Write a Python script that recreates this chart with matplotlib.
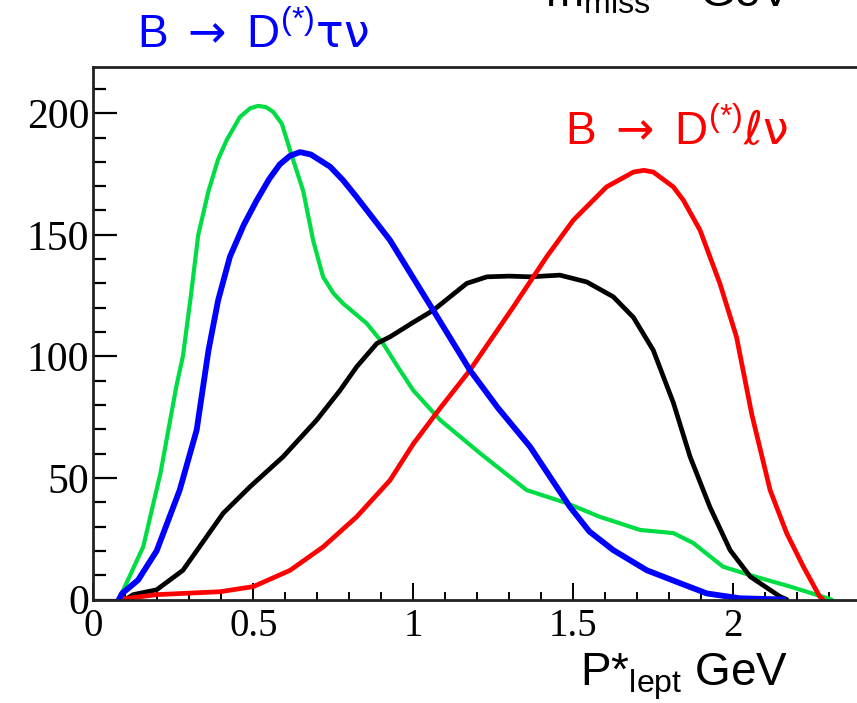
import numpy as np
import matplotlib
matplotlib.use("Agg")
import matplotlib.pyplot as plt
from matplotlib.ticker import MultipleLocator, FormatStrFormatter

plt.rcParams['mathtext.fontset'] = 'custom'
plt.rcParams['mathtext.rm'] = 'Liberation Sans'
plt.rcParams['mathtext.it'] = 'Liberation Sans:italic'
plt.rcParams['mathtext.sf'] = 'DejaVu Sans'

# P*_lept (GeV) vs events
green_x = [0.08, 0.156, 0.21, 0.26, 0.28, 0.305, 0.328, 0.36, 0.39, 0.417, 0.458, 0.49,
           0.515, 0.54, 0.5625, 0.589, 0.615, 0.656, 0.687, 0.718, 0.75, 0.78, 0.854,
           0.905, 0.95, 1.0, 1.084, 1.21, 1.354, 1.48, 1.583, 1.709, 1.813, 1.875,
           1.968, 2.053, 2.178, 2.307]
green_y = [0, 21.7, 52, 88, 100, 125, 150, 168, 181, 189, 198.4, 202,
           203, 202.5, 200.5, 195.7, 184.7, 168, 147.7, 132.7, 126, 121.8, 113.6,
           105.4, 96, 86, 73.8, 60, 45, 39.6, 34, 28.6, 27.3, 23.2,
           13.5, 10, 5.3, 0]

blue_x = [0.08, 0.09, 0.14, 0.198, 0.27, 0.323, 0.36, 0.39, 0.427, 0.47, 0.51, 0.55,
          0.583, 0.615, 0.646, 0.68, 0.74, 0.78, 0.823, 0.927, 1.062, 1.177, 1.265,
          1.365, 1.49, 1.55, 1.625, 1.73, 1.834, 1.917, 2.02, 2.157]
blue_y = [0, 2.5, 8, 20, 45, 69.7, 102.5, 123, 141, 154, 164, 173,
          179, 182.5, 184, 183, 178, 172.5, 165.5, 147.8, 119, 94.3, 78.7,
          62.8, 38, 28, 20.3, 12, 6.7, 2.5, 0.5, 0]

black_x = [0.1, 0.125, 0.198, 0.28, 0.354, 0.406, 0.49, 0.593, 0.698, 0.771, 0.823,
           0.886, 0.927, 1.0, 1.063, 1.167, 1.23, 1.3, 1.365, 1.458, 1.542, 1.625,
           1.688, 1.75, 1.813, 1.865, 1.927, 1.99, 2.053, 2.146, 2.167]
black_y = [0, 2, 4, 12, 25.8, 35.5, 46.4, 58.7, 73.8, 86, 95.7,
           105.3, 108, 114, 119, 130, 132.7, 133, 132.7, 133.4, 130.6, 124.5,
           116, 102.5, 80.8, 58.7, 38, 20.3, 9.4, 1.2, 0]

red_x = [0.08, 0.198, 0.396, 0.5, 0.615, 0.719, 0.823, 0.927, 1.0, 1.084, 1.177,
         1.3125, 1.417, 1.5, 1.604, 1.688, 1.72, 1.75, 1.8125, 1.844, 1.896, 1.958,
         2.01, 2.058, 2.115, 2.167, 2.219, 2.27, 2.28]
red_y = [0, 2, 3.2, 5.3, 12, 21.7, 34, 49, 64, 78.7, 94.3,
         120.3, 141, 156, 169.7, 175.8, 176.5, 175.8, 169.7, 164.2, 151.9, 130,
         108, 76, 45, 27.2, 13.5, 1.2, 0]

W, H = 857, 703
fig = plt.figure(figsize=(W / 100, H / 100), dpi=100)
ax = fig.add_axes([93.3 / W, 1 - 599.5 / H, 1 - 93.3 / W, (599.5 - 67) / H])

style = dict(solid_capstyle='round', solid_joinstyle='round')
ax.plot(green_x, green_y, color='#00dd44', lw=3.0, **style)
ax.plot(black_x, black_y, color='black', lw=3.4, **style)
ax.plot(red_x, red_y, color='#ff0000', lw=3.4, **style)
ax.plot(blue_x, blue_y, color='#0000ff', lw=4.2, **style)

ax.set_xlim(0, (W - 93.3) / 320)
ax.set_ylim(0, 219)
ax.spines['right'].set_visible(False)
for s in ['left', 'top', 'bottom']:
    ax.spines[s].set_linewidth(2.0)
    ax.spines[s].set_color('#222222')

ax.xaxis.set_major_locator(MultipleLocator(0.5))
ax.xaxis.set_minor_locator(MultipleLocator(0.1))
ax.yaxis.set_major_locator(MultipleLocator(50))
ax.yaxis.set_minor_locator(MultipleLocator(10))
ax.xaxis.set_major_formatter(FormatStrFormatter('%g'))
ax.yaxis.set_major_formatter(FormatStrFormatter('%g'))
ax.tick_params(axis='x', which='major', direction='in', length=12, width=1.4, pad=6)
ax.tick_params(axis='x', which='minor', direction='in', length=6, width=1.4)
ax.tick_params(axis='y', which='major', direction='in', length=17, width=1.6, pad=3)
ax.tick_params(axis='y', which='minor', direction='in', length=9, width=1.6)
for lab in ax.get_xticklabels():
    lab.set_fontfamily('Liberation Serif')
    lab.set_fontsize(28)
for lab in ax.get_yticklabels():
    lab.set_fontfamily('Liberation Serif')
    lab.set_fontsize(30)

sans = ['Liberation Sans', 'DejaVu Sans']
fig.text(137 / W, 1 - 48 / H, r"B $\mathsf{\rightarrow}$ D$^{(*)}\mathsf{τν}$", color='#0000ff',
         fontsize=33, family=sans, va='baseline')
fig.text(565 / W, 1 - 145 / H, r"B $\mathsf{\rightarrow}$ D$^{(*)}\mathsf{ℓν}$", color='#ff0000',
         fontsize=33, family=sans, va='baseline')
fig.text(545 / W, 1 - 6 / H, r"m$_{\mathrm{miss}}$", color='black',
         fontsize=33, family=sans, va='baseline')
fig.text(700 / W, 1 - 6 / H, "GeV", color='black',
         fontsize=33, family=sans, va='baseline')
fig.text(580 / W, 1 - 685 / H, r"P*$_{\mathrm{lept}}$ GeV", color='black',
         fontsize=33, family=sans, va='baseline')

fig.savefig('out.png', dpi=100)
